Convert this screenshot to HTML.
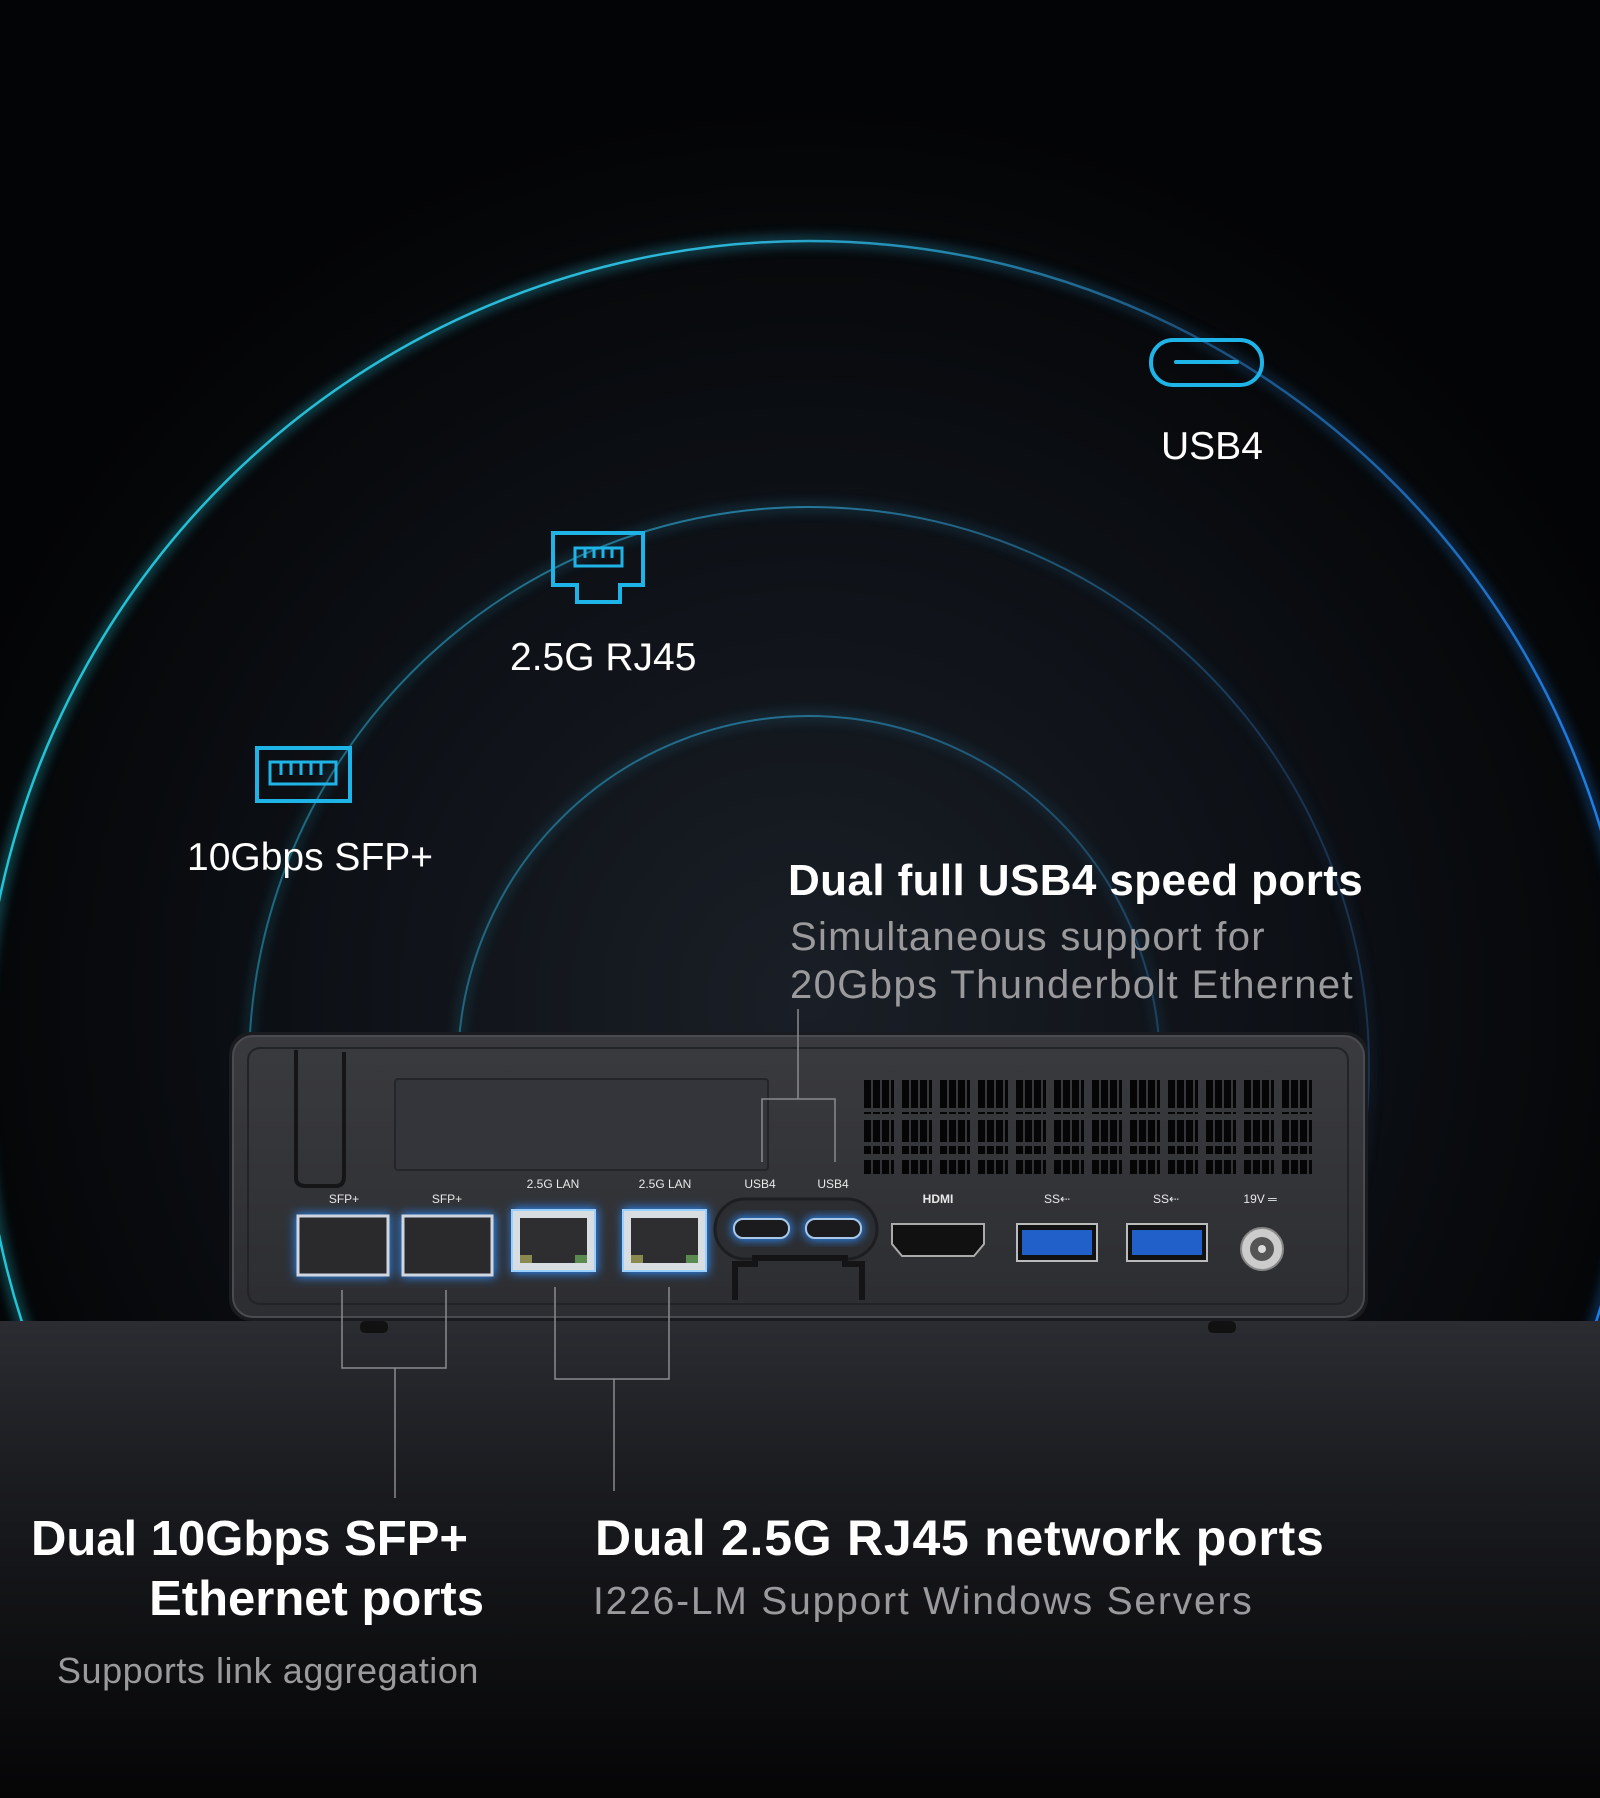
<!DOCTYPE html>
<html><head><meta charset="utf-8"><style>
html,body{margin:0;padding:0;background:#000;width:1600px;height:1798px;overflow:hidden;}
svg{display:block}
text{font-family:"Liberation Sans","DejaVu Sans",sans-serif;}
</style></head><body>
<svg width="1600" height="1798" viewBox="0 0 1600 1798" xmlns="http://www.w3.org/2000/svg">
<defs>
<radialGradient id="bg" cx="809" cy="1000" r="900" gradientUnits="userSpaceOnUse">
<stop offset="0" stop-color="#1a1f27"/><stop offset="0.6" stop-color="#0c0f14"/><stop offset="1" stop-color="#030405"/>
</radialGradient>
<linearGradient id="arcg" x1="0" y1="0" x2="1600" y2="0" gradientUnits="userSpaceOnUse">
<stop offset="0" stop-color="#22c4d6"/><stop offset="0.45" stop-color="#2bb6d8"/><stop offset="0.75" stop-color="#1c4f7a"/><stop offset="1" stop-color="#1e7fe8"/>
</linearGradient>
<linearGradient id="arcg2" x1="0" y1="0" x2="1600" y2="0" gradientUnits="userSpaceOnUse">
<stop offset="0" stop-color="#1a6f80"/><stop offset="0.5" stop-color="#2a8fb8"/><stop offset="0.8" stop-color="#1c3c60"/><stop offset="1" stop-color="#1b3350"/>
</linearGradient>
<linearGradient id="floor" x1="0" y1="1321" x2="0" y2="1798" gradientUnits="userSpaceOnUse">
<stop offset="0" stop-color="#2a2c31"/><stop offset="0.35" stop-color="#1a1b1f"/><stop offset="1" stop-color="#050506"/>
</linearGradient>
<linearGradient id="body" x1="0" y1="1032" x2="0" y2="1321" gradientUnits="userSpaceOnUse">
<stop offset="0" stop-color="#3a3b3f"/><stop offset="1" stop-color="#2c2d31"/>
</linearGradient>
<filter id="glow" x="-20%" y="-20%" width="140%" height="140%"><feGaussianBlur stdDeviation="6"/></filter>
<filter id="pglow" x="-30%" y="-30%" width="160%" height="160%"><feGaussianBlur stdDeviation="5"/></filter>
<pattern id="vent" x="864" y="0" width="38" height="40" patternUnits="userSpaceOnUse">
<rect x="0" y="0" width="7" height="34" fill="#050505"/><rect x="9" y="0" width="7" height="34" fill="#050505"/><rect x="18" y="0" width="7" height="34" fill="#050505"/><rect x="27" y="0" width="3" height="34" fill="#050505"/>
</pattern>
</defs>
<rect width="1600" height="1798" fill="url(#bg)"/>
<g fill="none">
<circle cx="809" cy="1068" r="827" stroke="url(#arcg)" stroke-width="8" opacity="0.5" filter="url(#glow)"/>
<circle cx="809" cy="1068" r="827" stroke="url(#arcg)" stroke-width="2.5"/>
<circle cx="809" cy="1067" r="560" stroke="url(#arcg2)" stroke-width="6" opacity="0.4" filter="url(#glow)"/>
<circle cx="809" cy="1067" r="560" stroke="url(#arcg2)" stroke-width="2" opacity="0.8"/>
<circle cx="809" cy="1067" r="351" stroke="url(#arcg2)" stroke-width="6" opacity="0.35" filter="url(#glow)"/>
<circle cx="809" cy="1067" r="351" stroke="url(#arcg2)" stroke-width="2" opacity="0.7"/>
</g>
<rect x="0" y="1321" width="1600" height="477" fill="url(#floor)"/>
<rect x="1151" y="340" width="111" height="45" rx="22" fill="none" stroke="#1fb4e8" stroke-width="4"/>
<line x1="1176" y1="362" x2="1237" y2="362" stroke="#1fb4e8" stroke-width="4" stroke-linecap="round"/>
<text x="1161" y="459" font-size="39" fill="#fff">USB4</text>
<path d="M553 533 H643 V585 H620 V602 H577 V585 H553 Z" fill="none" stroke="#1fb4e8" stroke-width="4"/>
<rect x="575" y="548" width="47" height="18" fill="none" stroke="#1fb4e8" stroke-width="3"/>
<path d="M585 548v10M594 548v10M603 548v10M612 548v10" stroke="#1fb4e8" stroke-width="3"/>
<text x="510" y="670" font-size="39" fill="#fff">2.5G RJ45</text>
<rect x="257" y="748" width="93" height="53" fill="none" stroke="#1fb4e8" stroke-width="4"/>
<rect x="270" y="762" width="66" height="22" fill="none" stroke="#1fb4e8" stroke-width="3"/>
<path d="M281 762v13M291 762v13M301 762v13M311 762v13M321 762v13" stroke="#1fb4e8" stroke-width="3"/>
<text x="187" y="870" font-size="39" fill="#fff">10Gbps SFP+</text>
<text x="788" y="895" font-size="44" font-weight="bold" fill="#fff" letter-spacing="0.4">Dual full USB4 speed ports</text>
<text x="790" y="950" font-size="40" fill="#9a9a9c" letter-spacing="1.3">Simultaneous support for</text>
<text x="790" y="998" font-size="40" fill="#9a9a9c" letter-spacing="1.4">20Gbps Thunderbolt Ethernet</text>
<rect x="229" y="1032" width="1139" height="289" rx="22" fill="#1a1b1e"/>
<rect x="233" y="1036" width="1131" height="281" rx="20" fill="url(#body)" stroke="#4a4b50" stroke-width="2"/>
<rect x="248" y="1048" width="1100" height="256" rx="12" fill="none" stroke="#222326" stroke-width="2"/>
<path d="M296 1050 V1178 Q296 1186 306 1186 H336 Q344 1186 344 1176 V1052" fill="none" stroke="#151518" stroke-width="4"/>
<rect x="395" y="1079" width="373" height="91" rx="3" fill="#34353a" stroke="#242528" stroke-width="2"/>
<rect x="864" y="1074" width="451" height="34" fill="url(#vent)"/>
<rect x="864" y="1112" width="451" height="30" fill="url(#vent)"/>
<rect x="864" y="1146" width="451" height="28" fill="url(#vent)"/>
<g font-size="12" fill="#e8e8e8" text-anchor="middle">
<text x="344" y="1203">SFP+</text><text x="447" y="1203">SFP+</text>
<text x="553" y="1188">2.5G LAN</text><text x="665" y="1188">2.5G LAN</text>
<text x="760" y="1188">USB4</text><text x="833" y="1188">USB4</text>
<text x="938" y="1203" font-weight="bold">HDMI</text>
<text x="1057" y="1203">SS⇠</text><text x="1166" y="1203">SS⇠</text>
<text x="1260" y="1203">19V ═</text>
</g>
<g>
<rect x="296" y="1214" width="94" height="63" fill="#2b8cff" filter="url(#pglow)"/>
<rect x="401" y="1214" width="94" height="63" fill="#2b8cff" filter="url(#pglow)"/>
<rect x="512" y="1208" width="85" height="65" fill="#2b8cff" filter="url(#pglow)"/>
<rect x="623" y="1208" width="85" height="65" fill="#2b8cff" filter="url(#pglow)"/>
<rect x="298" y="1216" width="90" height="59" fill="#2a2a2c" stroke="#cfd6e0" stroke-width="3"/>
<rect x="403" y="1216" width="89" height="59" fill="#2a2a2c" stroke="#cfd6e0" stroke-width="3"/>
<rect x="512" y="1210" width="83" height="61" fill="#d8dde2" stroke="#9ad0ff" stroke-width="2"/>
<rect x="520" y="1218" width="67" height="45" fill="#2e2e30"/>
<rect x="623" y="1210" width="83" height="61" fill="#d8dde2" stroke="#9ad0ff" stroke-width="2"/>
<rect x="631" y="1218" width="67" height="45" fill="#2e2e30"/>
<rect x="520" y="1255" width="12" height="8" fill="#8a8a50"/><rect x="575" y="1255" width="12" height="8" fill="#5a8a50"/>
<rect x="631" y="1255" width="12" height="8" fill="#8a8a50"/><rect x="686" y="1255" width="12" height="8" fill="#5a8a50"/>
</g>
<rect x="715" y="1199" width="162" height="60" rx="30" fill="#2c2d31" stroke="#1d1e21" stroke-width="3"/>
<rect x="732" y="1217" width="59" height="23" rx="11" fill="#2b8cff" filter="url(#pglow)"/>
<rect x="804" y="1217" width="59" height="23" rx="11" fill="#2b8cff" filter="url(#pglow)"/>
<rect x="734" y="1219" width="55" height="19" rx="9" fill="#1b1b1d" stroke="#a8c8e8" stroke-width="2"/>
<rect x="806" y="1219" width="55" height="19" rx="9" fill="#1b1b1d" stroke="#a8c8e8" stroke-width="2"/>
<path d="M735 1300 V1264 H755 V1258 H845 V1264 H862 V1300" fill="none" stroke="#141416" stroke-width="6"/>
<path d="M892 1224 H984 V1244 L974 1256 H902 L892 1244 Z" fill="#111" stroke="#aaa" stroke-width="2"/>
<rect x="1017" y="1224" width="80" height="37" fill="#111" stroke="#bbb" stroke-width="2"/>
<rect x="1022" y="1230" width="70" height="25" fill="#2060c8"/>
<rect x="1127" y="1224" width="80" height="37" fill="#111" stroke="#bbb" stroke-width="2"/>
<rect x="1132" y="1230" width="70" height="25" fill="#2060c8"/>
<circle cx="1262" cy="1249" r="21" fill="#ccc" stroke="#888" stroke-width="2"/>
<circle cx="1262" cy="1249" r="12" fill="#555"/><circle cx="1262" cy="1249" r="4" fill="#ddd"/>
<rect x="360" y="1321" width="28" height="12" rx="5" fill="#111"/>
<rect x="1208" y="1321" width="28" height="12" rx="5" fill="#111"/>
<g stroke="#8a8a8e" stroke-width="1.5" fill="none">
<path d="M342 1290 V1368 H446 V1290 M395 1368 V1498"/>
<path d="M555 1287 V1379 H669 V1287 M614 1379 V1491"/>
<path d="M762 1162 V1099 H835 V1162 M798 1099 V1009"/>
</g>
<text x="468" y="1555" font-size="49" font-weight="bold" fill="#fff" text-anchor="end">Dual 10Gbps SFP+</text>
<text x="484" y="1615" font-size="49" font-weight="bold" fill="#fff" text-anchor="end">Ethernet ports</text>
<text x="479" y="1683" font-size="36" fill="#9a9a9c" text-anchor="end" letter-spacing="0.55">Supports link aggregation</text>
<text x="595" y="1555" font-size="50" font-weight="bold" fill="#fff" letter-spacing="0.75">Dual 2.5G RJ45 network ports</text>
<text x="593" y="1614" font-size="39" fill="#9a9a9c" letter-spacing="1.8">I226-LM Support Windows Servers</text>
</svg>
</body></html>
